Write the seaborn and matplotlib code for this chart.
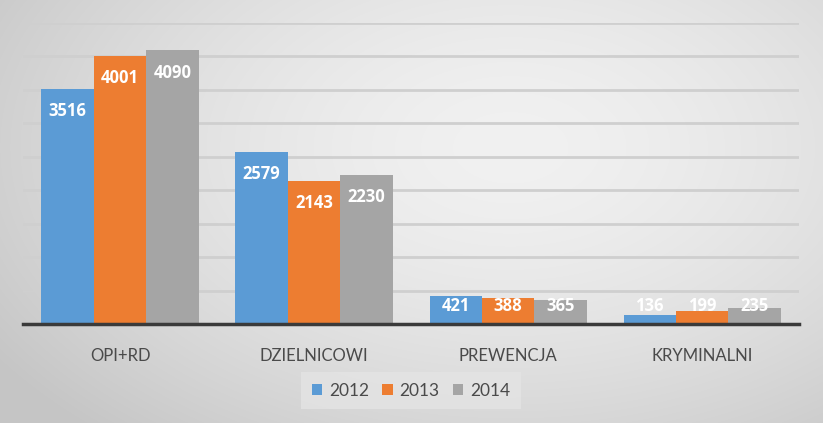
import numpy as np
import pandas as pd
import matplotlib
matplotlib.use("Agg")
import matplotlib.pyplot as plt
import seaborn as sns

categories = ["OPI+RD", "DZIELNICOWI", "PREWENCJA", "KRYMINALNI"]
years = ["2012", "2013", "2014"]
values_2012 = [3516, 2579, 421, 136]
values_2013 = [4001, 2143, 388, 199]
values_2014 = [4090, 2230, 365, 235]
colors = ["#5B9BD5", "#ED7D31", "#A5A5A5"]

rows = []
for yr, vals in zip(years, [values_2012, values_2013, values_2014]):
    for c, v in zip(categories, vals):
        rows.append({"cat": c, "year": yr, "value": v})
df = pd.DataFrame(rows)

sns.set_theme(style="white")
plt.rcParams['font.family'] = ['Lato', 'DejaVu Sans']

fig = plt.figure(figsize=(8.23, 4.23), dpi=100)

# radial gradient background
bg = fig.add_axes([0, 0, 1, 1], zorder=-10)
h, w = 423, 823
yy, xx = np.mgrid[0:h, 0:w]
cx, cy = 0.62 * w, 0.35 * h
d = np.sqrt(((xx - cx) / (0.75 * w)) ** 2 + ((yy - cy) / (0.9 * h)) ** 2)
d = np.clip(d, 0, 1)
val = 0.945 - 0.17 * d ** 1.6
img = np.dstack([val, val, val])
bg.imshow(img, aspect="auto", extent=[0, 1, 0, 1], origin="upper")
bg.axis("off")

ax = fig.add_axes([0.028, 0.234, 0.943, 0.7116])
ax.patch.set_alpha(0)
sns.barplot(data=df, x="cat", y="value", hue="year", palette=colors,
            width=0.81, gap=0, ax=ax, saturation=1, edgecolor="none",
            legend=True)
ax.set_ylim(0, 4500)
ax.set_xlim(-0.5, 3.5)
ax.set_yticks(np.arange(0, 4501, 500))
ax.yaxis.grid(True, color="#cfcfcf", linewidth=2)
ax.set_axisbelow(True)
for s in ["top", "right", "left"]:
    ax.spines[s].set_visible(False)
ax.spines["bottom"].set_color("#3a3a3a")
ax.spines["bottom"].set_linewidth(2.5)
ax.spines["bottom"].set_zorder(5)
ax.tick_params(axis="y", left=False, labelleft=False)
ax.tick_params(axis="x", bottom=False, pad=11, labelsize=12, labelcolor="#4a4a4a")
ax.set_xlabel("")
ax.set_ylabel("")

for cont in ax.containers:
    for bar in cont:
        v = bar.get_height()
        x = bar.get_x() + bar.get_width() / 2
        y = max(v - 330, 270)
        ax.text(x, y, f"{int(round(v))}", ha="center", va="center",
                color="white", fontsize=12, fontweight="bold", zorder=6,
                family=["Open Sans", "DejaVu Sans"])

leg = ax.legend(loc="center", bbox_to_anchor=(0.5, -0.222), ncol=3,
                frameon=True, fontsize=12.5, handlelength=0.6, handleheight=0.6,
                handletextpad=0.4, columnspacing=0.75, borderpad=0.6)
leg.get_frame().set_facecolor("#e4e4e4")
leg.get_frame().set_edgecolor("none")
leg.get_frame().set_boxstyle("square", pad=0)
for t in leg.get_texts():
    t.set_color("#4a4a4a")

fig.savefig("out.png", dpi=100)
